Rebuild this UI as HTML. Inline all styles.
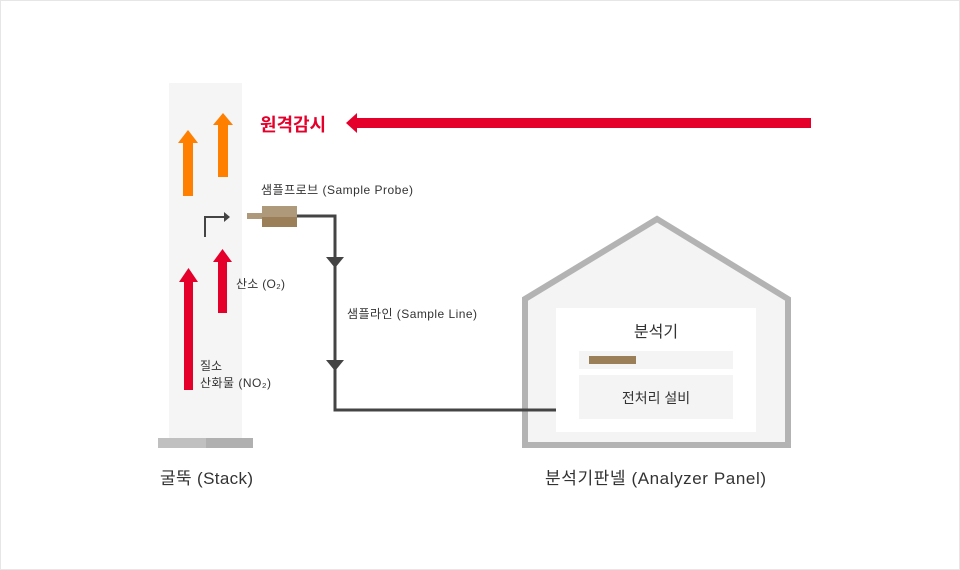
<!DOCTYPE html>
<html><head><meta charset="utf-8"><style>
html,body{margin:0;padding:0;background:#fff}
svg{display:block}
text{font-family:"Liberation Sans","Noto Sans CJK KR",sans-serif;fill:#333}
</style></head><body>
<svg width="960" height="570" viewBox="0 0 960 570" xmlns="http://www.w3.org/2000/svg">
<rect x="0.5" y="0.5" width="959" height="569" fill="#fff" stroke="#e6e6e6"/>
<!-- stack -->
<rect x="169" y="83" width="73" height="355" fill="#f5f5f5"/>
<rect x="158" y="438" width="48" height="10" fill="#c0c0c0"/>
<rect x="206" y="438" width="47" height="10" fill="#b0b0b0"/>
<!-- orange arrows -->
<rect x="183" y="142" width="10" height="54" fill="#ff7f00"/>
<polygon points="188,130 198,143 178,143" fill="#ff7f00"/>
<rect x="218" y="124" width="10" height="53" fill="#ff7f00"/>
<polygon points="223,113 233,125 213,125" fill="#ff7f00"/>
<!-- red arrows -->
<rect x="184" y="281" width="9" height="109" fill="#e4002b"/>
<polygon points="188.5,268 198,282 179,282" fill="#e4002b"/>
<rect x="218" y="261" width="9" height="52" fill="#e4002b"/>
<polygon points="222.5,249 232,262 213,262" fill="#e4002b"/>
<!-- bent arrow -->
<polyline points="205,237 205,217 225,217" fill="none" stroke="#444" stroke-width="2"/>
<polygon points="224,212 230,217 224,222" fill="#444"/>
<!-- remote arrow -->
<rect x="355" y="118" width="456" height="10" fill="#e4002b"/>
<polygon points="346,123 357,113 357,133" fill="#e4002b"/>
<text x="260" y="131" font-size="18" font-weight="bold" style="fill:#e4002b" textLength="66">원격감시</text>
<!-- house -->
<polygon points="525,299 657,219 788,299 788,445 525,445" fill="#f4f4f4" stroke="#b3b3b3" stroke-width="6"/>
<rect x="556" y="308" width="200" height="124" fill="#fff"/>
<rect x="579" y="351" width="154" height="18" fill="#f4f4f4"/>
<rect x="589" y="356" width="47" height="8" fill="#9a7f58"/>
<rect x="579" y="375" width="154" height="44" fill="#f4f4f4"/>
<text x="656" y="337" font-size="16" text-anchor="middle">분석기</text>
<text x="656" y="403" font-size="14" text-anchor="middle">전처리 설비</text>
<!-- probe & line -->
<rect x="247" y="213" width="15" height="6" fill="#ae9a7a"/>
<rect x="262" y="206" width="35" height="11" fill="#ae9a7a"/>
<rect x="262" y="217" width="35" height="10" fill="#9a7f58"/>
<polyline points="297,216 335,216 335,410 556,410" fill="none" stroke="#444" stroke-width="3"/>
<polygon points="326,257 344,257 335,268" fill="#444"/>
<polygon points="326,360 344,360 335,371" fill="#444"/>
<!-- labels -->
<text x="261" y="194" font-size="12" textLength="152">샘플프로브 (Sample Probe)</text>
<text x="347" y="318" font-size="12" textLength="130">샘플라인 (Sample Line)</text>
<text x="236" y="288" font-size="12" textLength="49">산소 (O₂)</text>
<text x="200" y="370" font-size="12">질소</text>
<text x="200" y="387" font-size="12" textLength="71">산화물 (NO₂)</text>
<text x="160" y="484" font-size="17" textLength="93">굴뚝 (Stack)</text>
<text x="545" y="484" font-size="17" textLength="221">분석기판넬 (Analyzer Panel)</text>
</svg>
</body></html>
